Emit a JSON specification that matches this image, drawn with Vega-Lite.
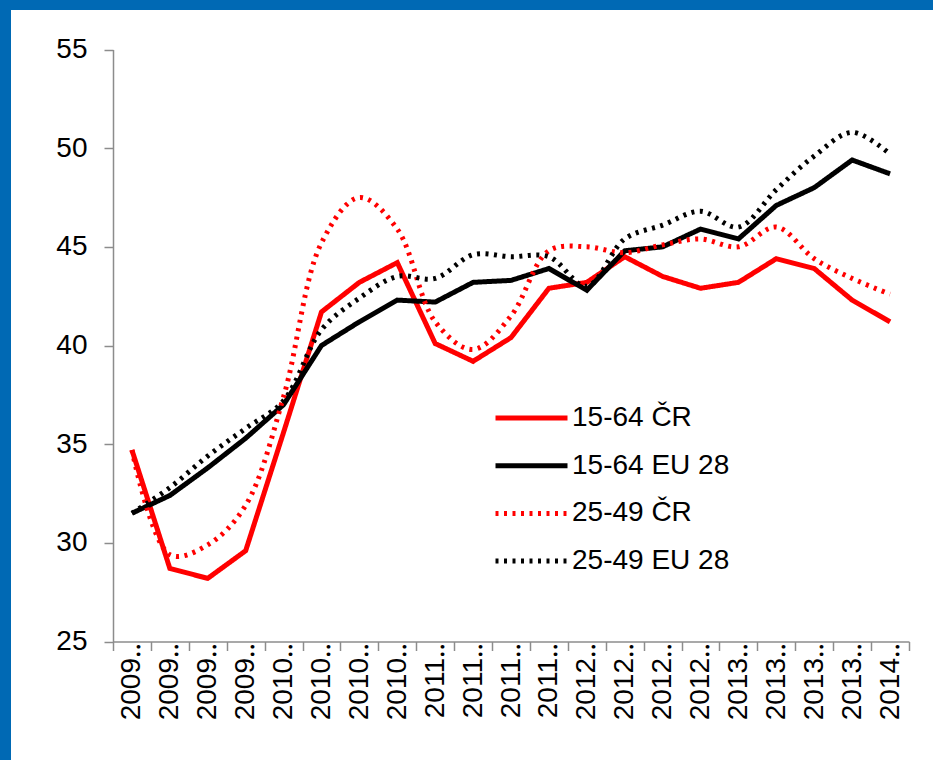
{
  "$schema": "https://vega.github.io/schema/vega-lite/v6.json",
  "width": 922,
  "height": 750,
  "autosize": {"type": "none"},
  "padding": {"left": 11, "top": 10, "right": 0, "bottom": 0},
  "background": "#0069B4",
  "config": {"view": {"fill": "#FFFFFF", "stroke": null}, "font": "Liberation Sans"},
  "datasets": {
    "series": [
      {"quarter": "2009Q1", "series": "15-64 ČR", "value": 34.7},
      {"quarter": "2009Q2", "series": "15-64 ČR", "value": 28.7},
      {"quarter": "2009Q3", "series": "15-64 ČR", "value": 28.2},
      {"quarter": "2009Q4", "series": "15-64 ČR", "value": 29.6},
      {"quarter": "2010Q1", "series": "15-64 ČR", "value": 35.6},
      {"quarter": "2010Q2", "series": "15-64 ČR", "value": 41.7},
      {"quarter": "2010Q3", "series": "15-64 ČR", "value": 43.2},
      {"quarter": "2010Q4", "series": "15-64 ČR", "value": 44.2},
      {"quarter": "2011Q1", "series": "15-64 ČR", "value": 40.1},
      {"quarter": "2011Q2", "series": "15-64 ČR", "value": 39.2},
      {"quarter": "2011Q3", "series": "15-64 ČR", "value": 40.4},
      {"quarter": "2011Q4", "series": "15-64 ČR", "value": 42.9},
      {"quarter": "2012Q1", "series": "15-64 ČR", "value": 43.2},
      {"quarter": "2012Q2", "series": "15-64 ČR", "value": 44.5},
      {"quarter": "2012Q3", "series": "15-64 ČR", "value": 43.5},
      {"quarter": "2012Q4", "series": "15-64 ČR", "value": 42.9},
      {"quarter": "2013Q1", "series": "15-64 ČR", "value": 43.2},
      {"quarter": "2013Q2", "series": "15-64 ČR", "value": 44.4},
      {"quarter": "2013Q3", "series": "15-64 ČR", "value": 43.9},
      {"quarter": "2013Q4", "series": "15-64 ČR", "value": 42.3},
      {"quarter": "2014Q1", "series": "15-64 ČR", "value": 41.2},
      {"quarter": "2009Q1", "series": "15-64 EU 28", "value": 31.5},
      {"quarter": "2009Q2", "series": "15-64 EU 28", "value": 32.4},
      {"quarter": "2009Q3", "series": "15-64 EU 28", "value": 33.8},
      {"quarter": "2009Q4", "series": "15-64 EU 28", "value": 35.3},
      {"quarter": "2010Q1", "series": "15-64 EU 28", "value": 37.0},
      {"quarter": "2010Q2", "series": "15-64 EU 28", "value": 40.0},
      {"quarter": "2010Q3", "series": "15-64 EU 28", "value": 41.2},
      {"quarter": "2010Q4", "series": "15-64 EU 28", "value": 42.3},
      {"quarter": "2011Q1", "series": "15-64 EU 28", "value": 42.2},
      {"quarter": "2011Q2", "series": "15-64 EU 28", "value": 43.2},
      {"quarter": "2011Q3", "series": "15-64 EU 28", "value": 43.3},
      {"quarter": "2011Q4", "series": "15-64 EU 28", "value": 43.9},
      {"quarter": "2012Q1", "series": "15-64 EU 28", "value": 42.8},
      {"quarter": "2012Q2", "series": "15-64 EU 28", "value": 44.8},
      {"quarter": "2012Q3", "series": "15-64 EU 28", "value": 45.0},
      {"quarter": "2012Q4", "series": "15-64 EU 28", "value": 45.9},
      {"quarter": "2013Q1", "series": "15-64 EU 28", "value": 45.4},
      {"quarter": "2013Q2", "series": "15-64 EU 28", "value": 47.1},
      {"quarter": "2013Q3", "series": "15-64 EU 28", "value": 48.0},
      {"quarter": "2013Q4", "series": "15-64 EU 28", "value": 49.4},
      {"quarter": "2014Q1", "series": "15-64 EU 28", "value": 48.7},
      {"quarter": "2009Q1", "series": "25-49 ČR", "value": 34.7},
      {"quarter": "2009Q2", "series": "25-49 ČR", "value": 29.4},
      {"quarter": "2009Q3", "series": "25-49 ČR", "value": 29.9},
      {"quarter": "2009Q4", "series": "25-49 ČR", "value": 31.9},
      {"quarter": "2010Q1", "series": "25-49 ČR", "value": 37.4},
      {"quarter": "2010Q2", "series": "25-49 ČR", "value": 45.2},
      {"quarter": "2010Q3", "series": "25-49 ČR", "value": 47.5},
      {"quarter": "2010Q4", "series": "25-49 ČR", "value": 45.9},
      {"quarter": "2011Q1", "series": "25-49 ČR", "value": 41.2},
      {"quarter": "2011Q2", "series": "25-49 ČR", "value": 39.8},
      {"quarter": "2011Q3", "series": "25-49 ČR", "value": 41.5},
      {"quarter": "2011Q4", "series": "25-49 ČR", "value": 44.8},
      {"quarter": "2012Q1", "series": "25-49 ČR", "value": 45.0},
      {"quarter": "2012Q2", "series": "25-49 ČR", "value": 44.7},
      {"quarter": "2012Q3", "series": "25-49 ČR", "value": 45.1},
      {"quarter": "2012Q4", "series": "25-49 ČR", "value": 45.4},
      {"quarter": "2013Q1", "series": "25-49 ČR", "value": 45.0},
      {"quarter": "2013Q2", "series": "25-49 ČR", "value": 46.0},
      {"quarter": "2013Q3", "series": "25-49 ČR", "value": 44.4},
      {"quarter": "2013Q4", "series": "25-49 ČR", "value": 43.4},
      {"quarter": "2014Q1", "series": "25-49 ČR", "value": 42.6},
      {"quarter": "2009Q1", "series": "25-49 EU 28", "value": 31.5},
      {"quarter": "2009Q2", "series": "25-49 EU 28", "value": 32.8},
      {"quarter": "2009Q3", "series": "25-49 EU 28", "value": 34.4},
      {"quarter": "2009Q4", "series": "25-49 EU 28", "value": 35.8},
      {"quarter": "2010Q1", "series": "25-49 EU 28", "value": 37.2},
      {"quarter": "2010Q2", "series": "25-49 EU 28", "value": 40.8},
      {"quarter": "2010Q3", "series": "25-49 EU 28", "value": 42.4},
      {"quarter": "2010Q4", "series": "25-49 EU 28", "value": 43.5},
      {"quarter": "2011Q1", "series": "25-49 EU 28", "value": 43.4},
      {"quarter": "2011Q2", "series": "25-49 EU 28", "value": 44.6},
      {"quarter": "2011Q3", "series": "25-49 EU 28", "value": 44.5},
      {"quarter": "2011Q4", "series": "25-49 EU 28", "value": 44.5},
      {"quarter": "2012Q1", "series": "25-49 EU 28", "value": 43.0},
      {"quarter": "2012Q2", "series": "25-49 EU 28", "value": 45.4},
      {"quarter": "2012Q3", "series": "25-49 EU 28", "value": 46.1},
      {"quarter": "2012Q4", "series": "25-49 EU 28", "value": 46.8},
      {"quarter": "2013Q1", "series": "25-49 EU 28", "value": 46.0},
      {"quarter": "2013Q2", "series": "25-49 EU 28", "value": 47.9},
      {"quarter": "2013Q3", "series": "25-49 EU 28", "value": 49.6},
      {"quarter": "2013Q4", "series": "25-49 EU 28", "value": 50.8},
      {"quarter": "2014Q1", "series": "25-49 EU 28", "value": 49.7}
    ]
  },
  "data": {"name": "series"},
  "encoding": {
    "x": {
      "field": "quarter",
      "type": "ordinal",
      "sort": null,
      "scale": {"type": "band", "range": [102, 898], "paddingInner": 0, "paddingOuter": 0},
      "axis": {
        "title": null,
        "orient": "bottom",
        "offset": -118.5,
        "grid": false,
        "tickBand": "extent",
        "tickSize": 9,
        "tickWidth": 1.5,
        "tickColor": "#8C8C8C",
        "domainColor": "#8C8C8C",
        "domainWidth": 1.5,
        "labelAngle": -90,
        "labelAlign": "right",
        "labelBaseline": "middle",
        "labelPadding": -8,
        "labelFontSize": 28,
        "labelColor": "#000000",
        "labelOverlap": false,
        "labelExpr": "datum.label ? slice(datum.label, 0, 4) + '\u2025' : ''"
      }
    },
    "y": {
      "field": "value",
      "type": "quantitative",
      "scale": {"domain": [25, 55], "range": [631.5, 39.5], "nice": false, "zero": false},
      "axis": {
        "title": null,
        "offset": -102,
        "values": [25, 30, 35, 40, 45, 50, 55],
        "grid": false,
        "tickSize": 9,
        "tickWidth": 1.5,
        "tickColor": "#8C8C8C",
        "domainColor": "#8C8C8C",
        "domainWidth": 1.5,
        "labelFontSize": 28,
        "labelColor": "#000000",
        "labelPadding": 17
      }
    },
    "color": {
      "field": "series",
      "type": "nominal",
      "scale": {
        "domain": ["15-64 ČR", "15-64 EU 28", "25-49 ČR", "25-49 EU 28"],
        "range": ["#FF0000", "#000000", "#FF0000", "#000000"]
      },
      "legend": {
        "orient": "none",
        "legendX": 482,
        "legendY": 394,
        "title": null,
        "padding": 0,
        "symbolType": "stroke",
        "symbolSize": 5184,
        "symbolOffset": 0,
        "clipHeight": 28,
        "labelFontSize": 28,
        "labelColor": "#000000",
        "labelOffset": 2,
        "rowPadding": 19.7
      }
    },
    "strokeDash": {
      "field": "series",
      "type": "nominal",
      "scale": {
        "domain": ["15-64 ČR", "15-64 EU 28", "25-49 ČR", "25-49 EU 28"],
        "range": [[1, 0], [1, 0], [3, 5.5], [3, 5.5]]
      }
    },
    "strokeWidth": {
      "field": "series",
      "type": "nominal",
      "scale": {
        "domain": ["15-64 ČR", "15-64 EU 28", "25-49 ČR", "25-49 EU 28"],
        "range": [5, 5, 3.5, 3.5]
      }
    }
  },
  "layer": [
    {
      "transform": [{"filter": {"field": "series", "oneOf": ["15-64 ČR", "15-64 EU 28"]}}],
      "mark": {"type": "line"}
    },
    {
      "transform": [{"filter": {"field": "series", "oneOf": ["25-49 ČR", "25-49 EU 28"]}}],
      "mark": {"type": "line", "interpolate": "catmull-rom"}
    }
  ]
}
